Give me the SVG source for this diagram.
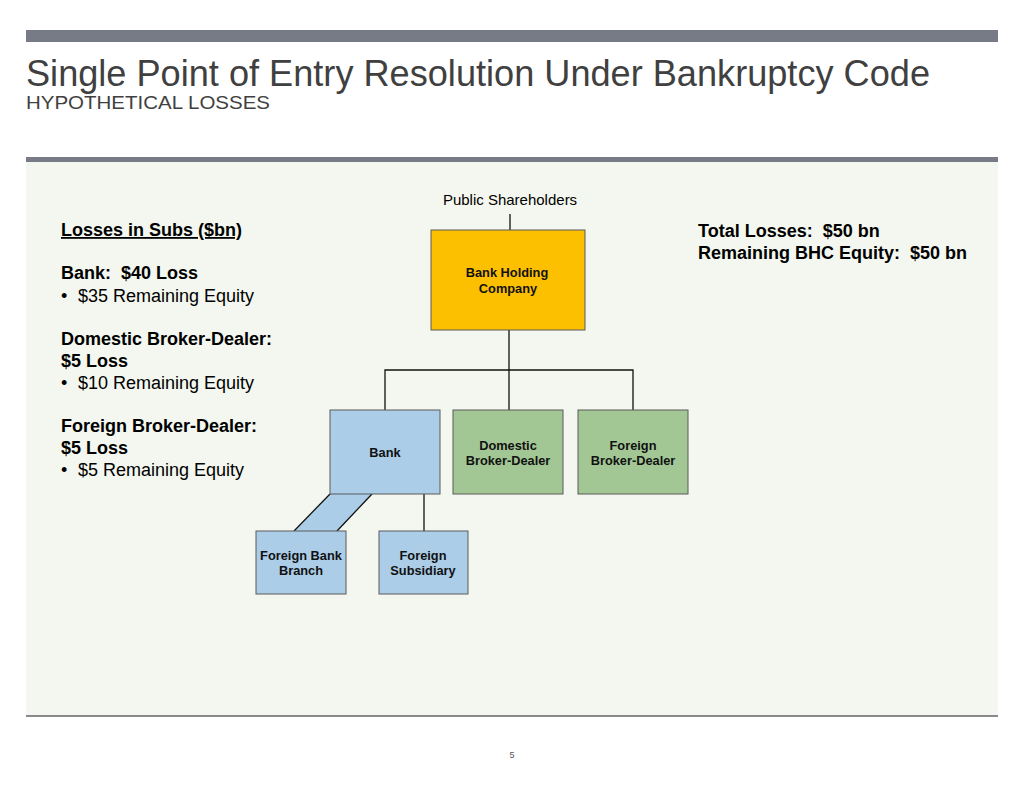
<svg xmlns="http://www.w3.org/2000/svg" width="1024" height="791" viewBox="0 0 1024 791">
<style>
.t{font-family:"Liberation Sans",Arial,sans-serif;fill:#000}
.b{font-weight:bold}
.nl{font-family:"Liberation Sans",Arial,sans-serif;font-weight:bold;font-size:12.8px;text-anchor:middle;fill:#111}
.box{stroke:#5a5a5a;stroke-width:1}
.conn{stroke:#111;stroke-width:1.3;fill:none}
</style>
<rect width="1024" height="791" fill="#fff"/>
<rect x="26" y="30" width="972" height="12" fill="#777b86"/>
<text x="26" y="86" class="t" font-size="37" style="fill:#404040" textLength="904" lengthAdjust="spacingAndGlyphs">Single Point of Entry Resolution Under Bankruptcy Code</text>
<text x="26" y="109" class="t" font-size="19" style="fill:#404040" textLength="244" lengthAdjust="spacingAndGlyphs">HYPOTHETICAL LOSSES</text>
<rect x="26" y="157" width="972" height="5" fill="#777b86"/>
<rect x="26" y="162" width="972" height="553" fill="#f4f7ef"/>
<rect x="26" y="715" width="972" height="2" fill="#8a8a8a"/>
<text x="512" y="758" class="t" font-size="9" text-anchor="middle" style="fill:#555">5</text>

<g id="left-text" class="t" font-size="18">
<text x="61" y="236" class="b" text-decoration="underline">Losses in Subs ($bn)</text>
<text x="61" y="279" class="b">Bank:&#160; $40 Loss</text>
<text x="61" y="302">•</text><text x="78" y="302">$35 Remaining Equity</text>
<text x="61" y="345" class="b">Domestic Broker-Dealer:</text>
<text x="61" y="367" class="b">$5 Loss</text>
<text x="61" y="389">•</text><text x="78" y="389">$10 Remaining Equity</text>
<text x="61" y="432" class="b">Foreign Broker-Dealer:</text>
<text x="61" y="454" class="b">$5 Loss</text>
<text x="61" y="476">•</text><text x="78" y="476">$5 Remaining Equity</text>
</g>

<g id="right-text" class="t b" font-size="18">
<text x="698" y="237">Total Losses:&#160; $50 bn</text>
<text x="698" y="259">Remaining BHC Equity:&#160; $50 bn</text>
</g>

<g id="connectors">
<line class="conn" x1="510" y1="214" x2="510" y2="230"/>
<line class="conn" x1="509" y1="330" x2="509" y2="410"/>
<polyline class="conn" points="385,410 385,370 633,370 633,410"/>
<line class="conn" x1="424" y1="494" x2="424" y2="531"/>
<polygon points="330,494 372,494 337,531 294,531" fill="#abcde8" stroke="none"/>
<line class="conn" x1="330" y1="494" x2="294" y2="531"/>
<line class="conn" x1="372" y1="494" x2="337" y2="531"/>
</g>

<g id="public-shareholders">
<text x="510" y="205" class="t" font-size="15" text-anchor="middle">Public Shareholders</text>
</g>
<g id="bhc">
<rect class="box" x="431" y="230" width="154" height="100" fill="#fdc000" stroke="#7a6a30"/>
<text class="nl" x="507" y="277">Bank Holding</text>
<text class="nl" x="508" y="293">Company</text>
</g>
<g id="bank">
<rect class="box" x="330" y="410" width="110" height="84" fill="#abcde8"/>
<text class="nl" x="385" y="457">Bank</text>
</g>
<g id="domestic-bd">
<rect class="box" x="453" y="410" width="110" height="84" fill="#a3c794"/>
<text class="nl" x="508" y="450">Domestic</text>
<text class="nl" x="508" y="465">Broker-Dealer</text>
</g>
<g id="foreign-bd">
<rect class="box" x="578" y="410" width="110" height="84" fill="#a3c794"/>
<text class="nl" x="633" y="450">Foreign</text>
<text class="nl" x="633" y="465">Broker-Dealer</text>
</g>
<g id="foreign-bank-branch">
<rect class="box" x="256" y="531" width="90" height="63" fill="#abcde8"/>
<text class="nl" x="301" y="560">Foreign Bank</text>
<text class="nl" x="301" y="575">Branch</text>
</g>
<g id="foreign-subsidiary">
<rect class="box" x="379" y="531" width="89" height="63" fill="#abcde8"/>
<text class="nl" x="423" y="560">Foreign</text>
<text class="nl" x="423" y="575">Subsidiary</text>
</g>
</svg>
